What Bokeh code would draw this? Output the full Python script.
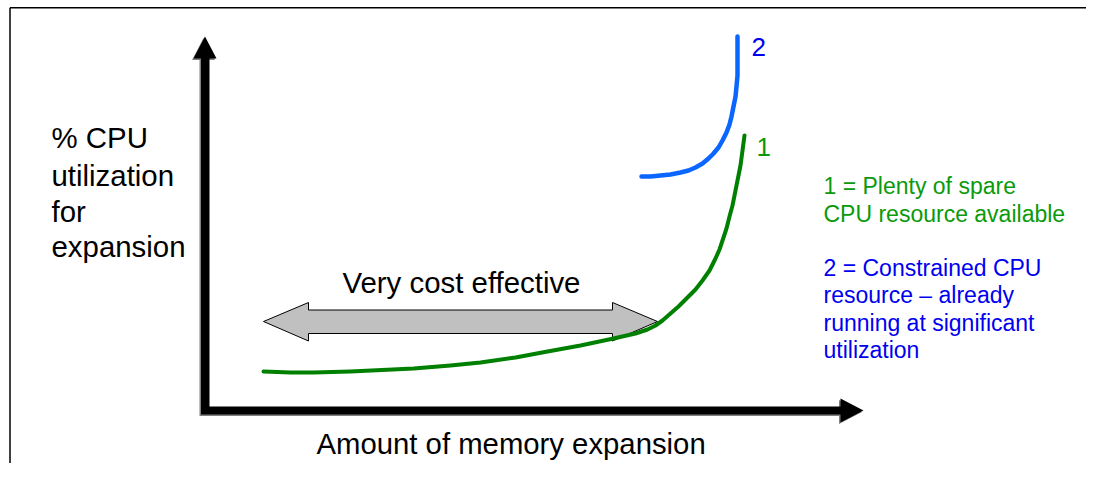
from bokeh.plotting import figure
from bokeh.models import Range1d, Label
from bokeh.embed import file_html
from bokeh.resources import INLINE

# ---- data (screen-space units of the diagram: x right, y down) ----
curve1_x = [263, 290, 313, 350, 413, 450, 480, 515, 547, 580, 613, 635, 647, 655, 662, 670, 678, 687, 695, 702, 709, 715, 719, 722, 726, 729, 732, 734, 737, 740, 742, 744]
curve1_y = [371, 372, 372, 371, 368, 365, 362, 357, 351, 345, 338, 333, 329, 325, 320, 313, 306, 297, 289, 280, 270, 258, 249, 240, 228, 216, 205, 195, 180, 165, 150, 135]
curve2_x = [641, 650, 660, 670, 680, 688, 695, 702, 708, 713, 718, 722, 726, 729, 731, 733, 735, 736, 737, 737, 737, 737]
curve2_y = [176, 176, 175, 174, 172, 170, 167, 163, 158, 153, 147, 140, 132, 124, 116, 106, 96, 86, 75, 65, 55, 36]

y_label_lines = ["% CPU", "utilization", "for", "expansion"]
x_label = "Amount of memory expansion"
range_label = "Very cost effective"
legend1_lines = ["1 = Plenty of spare", "CPU resource available"]
legend2_lines = ["2 = Constrained CPU", "resource \u2013 already", "running at significant", "utilization"]
series_tags = ["1", "2"]

GREEN_LINE = "#008000"
GREEN_TEXT = "#0a9a0a"
BLUE_LINE = "#0a66ff"
BLUE_TEXT = "#0000f0"
FONT = "Liberation Sans"

W, H = 1086, 463
p = figure(width=W, height=H, output_backend="svg", toolbar_location=None,
           x_axis_type=None, y_axis_type=None, min_border=0,
           x_range=Range1d(0, W), y_range=Range1d(H, 0))
p.outline_line_color = None
p.grid.visible = False
p.background_fill_color = "white"
p.border_fill_color = "white"

# frame lines (top and left)
p.line([9.5, W], [7.2, 7.2], line_color="black", line_width=1.5)
p.line([9.5, 9.5], [7.2, H], line_color="black", line_width=1.5)

# axes (L-shaped with arrow heads), shadow first
ax_x = [200.5, 200.5, 193, 204.5, 216, 209, 209, 840, 840, 863, 840, 840]
ax_y = [414, 58, 58, 36, 58, 58, 406, 406, 398, 410, 422, 414]
p.patch([v - 1.5 for v in ax_x], [v + 1.5 for v in ax_y], fill_color="#808080", line_color=None)
p.patch(ax_x, ax_y, fill_color="black", line_color=None)

# double arrow
da_x = [263, 308, 308, 612, 612, 657, 612, 612, 308, 308]
da_y = [321, 302, 309.5, 309.5, 302, 321, 340.5, 333, 333, 340.5]
p.patch(da_x, da_y, fill_color="#c0c0c0", line_color="black", line_width=1)

# curves
p.line(curve1_x, curve1_y, line_color=GREEN_LINE, line_width=4, line_cap="round", line_join="round")
p.line(curve2_x, curve2_y, line_color=BLUE_LINE, line_width=4.5, line_cap="round", line_join="round")

def lab(x, y, t, size, color):
    p.add_layout(Label(x=x, y=y, text=t, text_font=FONT, text_font_size=size,
                       text_color=color, text_baseline="alphabetic", text_align="left"))

for i, t in enumerate(y_label_lines):
    lab(51, [137, 175, 211, 246][i], t, "29.4px", "black")

lab(342, 282, range_label, "29.4px", "black")
lab(316, 443, x_label, "29.3px", "black")

lab(751, 46, series_tags[1], "26px", BLUE_TEXT)
lab(756, 146, series_tags[0], "26px", GREEN_TEXT)

for i, t in enumerate(legend1_lines):
    lab(823, [185, 213][i], t, "23px", GREEN_TEXT)
for i, t in enumerate(legend2_lines):
    lab(823, [267, 294, 322, 349][i], t, "23px", BLUE_TEXT)

open("out.html", "w").write(file_html(p, INLINE))
